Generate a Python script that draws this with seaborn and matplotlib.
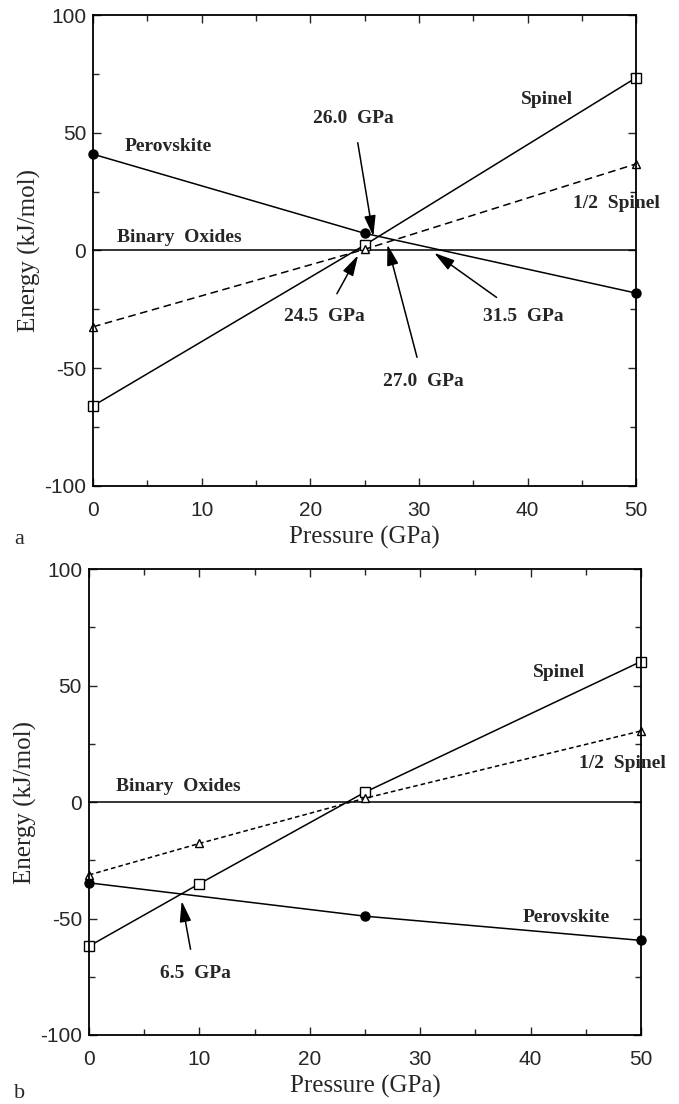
import matplotlib
matplotlib.use('Agg')
import matplotlib.pyplot as plt
from matplotlib.ticker import MultipleLocator
import seaborn as sns

# panel a: energies relative to the binary oxides (kJ/mol)
pressure_a = [0, 25, 50]
perovskite_a = [40.9, 7.3, -18.1]
spinel_a = [-66.0, 2.3, 73.4]
half_spinel_a = [-32.4, 0.5, 36.8]

# panel b
pressure_b = [0, 10, 25, 50]
spinel_b = [-61.9, -35.1, 4.2, 60.3]
half_spinel_b = [-31.3, -17.8, 1.6, 30.5]
pressure_b_perov = [0, 25, 50]
perovskite_b = [-34.7, -49.0, -59.4]

# binary oxides reference line
oxide_p = [0, 50]
oxide_e = [0, 0]

# (text, text position, arrow tip)
arrows_a = [
    ('26.0  GPa', (24.0, 56.0), (25.8, 6.0)),
    ('24.5  GPa', (21.3, -28.0), (24.4, -2.0)),
    ('27.0  GPa', (30.4, -55.5), (27.1, 2.5)),
    ('31.5  GPa', (39.6, -28.0), (31.4, -1.0)),
]
arrows_b = [
    ('6.5  GPa', (9.6, -73.5), (8.4, -42.5)),
]

labels_a = [
    ('Perovskite', (6.9, 44.0)),
    ('Spinel', (41.8, 64.0)),
    ('1/2  Spinel', (48.2, 20.0)),
    ('Binary  Oxides', (7.9, 5.6)),
]
labels_b = [
    ('Spinel', (42.6, 55.7)),
    ('1/2  Spinel', (48.3, 16.6)),
    ('Binary  Oxides', (8.1, 6.6)),
    ('Perovskite', (43.2, -49.6)),
]

sns.set_style('ticks')
plt.rcParams['font.family'] = ['Liberation Sans', 'DejaVu Sans']
plt.rcParams['axes.unicode_minus'] = False

SERIF = ['Liberation Serif', 'DejaVu Serif']


def draw_series(ax, x, y, marker, face, ls='-', ms=8):
    sns.lineplot(x=x, y=y, ax=ax, color='black', linewidth=1.1, linestyle=ls,
                 marker=marker, markersize=ms, markerfacecolor=face,
                 markeredgecolor='black', markeredgewidth=1.0, clip_on=False)


def style_axes(ax):
    ax.set_xlim(0, 50)
    ax.set_ylim(-100, 100)
    ax.xaxis.set_major_locator(MultipleLocator(10))
    ax.xaxis.set_minor_locator(MultipleLocator(5))
    ax.yaxis.set_major_locator(MultipleLocator(50))
    ax.yaxis.set_minor_locator(MultipleLocator(25))
    ax.tick_params(which='both', direction='in', top=True, right=True, width=1.0)
    ax.tick_params(which='major', length=6)
    ax.tick_params(which='minor', length=4)
    ax.tick_params(axis='x', which='major', pad=11, labelsize=15)
    ax.tick_params(axis='y', which='major', pad=5, labelsize=15)
    for s in ax.spines.values():
        s.set_linewidth(1.3)
        s.set_color('black')
    ax.set_xlabel('Pressure (GPa)', family=SERIF, fontsize=18, labelpad=4)
    ax.set_ylabel('Energy (kJ/mol)', family=SERIF, fontsize=18, labelpad=2)


def add_text(ax, labels, arrows):
    for txt, pos in labels:
        ax.text(pos[0], pos[1], txt, family=SERIF, fontweight='bold', fontsize=14,
                ha='center', va='center', clip_on=False)
    for txt, pos, tip in arrows:
        ax.annotate(txt, xy=tip, xytext=pos, family=SERIF, fontweight='bold',
                    fontsize=14, ha='center', va='center',
                    arrowprops=dict(arrowstyle='-|>,head_length=0.9,head_width=0.25',
                                    color='black', lw=1.1, shrinkA=9, shrinkB=0))


fig = plt.figure(figsize=(6.79, 11.04), dpi=100)
ax_a = fig.add_axes([0.137, 0.5598, 0.800, 0.4266])
ax_b = fig.add_axes([0.131, 0.0625, 0.813, 0.4221])

# panel a
draw_series(ax_a, oxide_p, oxide_e, None, 'none')
draw_series(ax_a, pressure_a, perovskite_a, 'o', 'black', ms=6.5)
draw_series(ax_a, pressure_a, spinel_a, 's', 'white', ms=7.5)
draw_series(ax_a, pressure_a, half_spinel_a, '^', 'white', ls=(0, (5, 3)), ms=6)
style_axes(ax_a)
add_text(ax_a, labels_a, arrows_a)

# panel b
draw_series(ax_b, oxide_p, oxide_e, None, 'none')
draw_series(ax_b, pressure_b_perov, perovskite_b, 'o', 'black', ms=6.5)
draw_series(ax_b, pressure_b, spinel_b, 's', 'white', ms=7.5)
draw_series(ax_b, pressure_b, half_spinel_b, '^', 'white', ls=(0, (3, 2)), ms=6)
style_axes(ax_b)
add_text(ax_b, labels_b, arrows_b)

fig.text(14 / 679, 1 - 539 / 1104, 'a', family=SERIF, fontsize=16, ha='left', va='center')
fig.text(14 / 679, 1 - 1093 / 1104, 'b', family=SERIF, fontsize=16, ha='left', va='center')

fig.savefig('out.png', dpi=100)
